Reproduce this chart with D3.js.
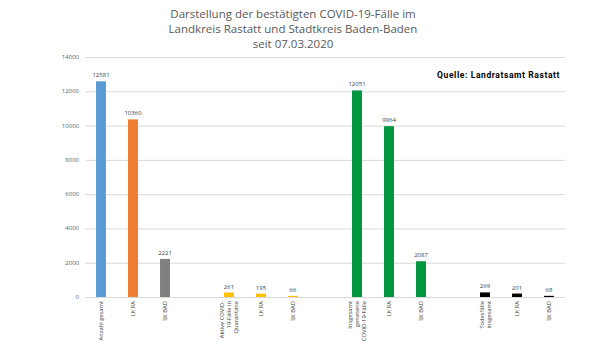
<!DOCTYPE html>
<html lang="de">
<head>
<meta charset="UTF-8">
<title>COVID-19 Rastatt</title>
<script src="https://cdn.jsdelivr.net/npm/d3@7"></script>
<style>
    body { margin: 0; background: #fff; }
    text { font-family: "Open Sans", sans-serif; }
</style>
</head>
<body>
<script>
    // data
    var categories = [
        ["Anzahl gesamt"], ["LK RA"], ["SK BAD"],
        ["Aktive COVID-", "19-Fälle in", "Quarantäne"], ["LK RA"], ["SK BAD"],
        ["Insgesamt", "genesene", "COVID-19-Fälle"], ["LK RA"], ["SK BAD"],
        ["Todesfälle", "insgesamt"], ["LK RA"], ["SK BAD"]
    ];
    var values = [12581, 10360, 2221, 261, 195, 66, 12051, 9964, 2087, 269, 201, 68];
    var groupOf = [0, 0, 0, 1, 1, 1, 2, 2, 2, 3, 3, 3];
    var tickValues = [0, 2000, 4000, 6000, 8000, 10000, 12000, 14000];
    var titleLines = ["Darstellung der bestätigten COVID-19-Fälle im",
        "Landkreis Rastatt und Stadtkreis Baden-Baden", "seit 07.03.2020"];

    var colors = ["#5b9bd5", "#ed7d31", "#7f7f7f",
        "#ffc000", "#ffc000", "#ffc000",
        "#00953f", "#00953f", "#00953f",
        "#000000", "#000000", "#000000"];

    // 15 slots: one empty slot between groups
    var slots = [];
    values.forEach(function (v, i) {
        if (i > 0 && groupOf[i] !== groupOf[i - 1]) slots.push("gap" + i);
        slots.push("c" + i);
    });

    var width = 608, height = 342;
    var x = d3.scaleBand().domain(slots).range([85, 565])
        .paddingInner(0.69).paddingOuter(0.345);
    var y = d3.scaleLinear().domain([0, 14000]).range([297, 57]);

    var svg = d3.select("body").append("svg")
        .attr("width", width).attr("height", height);

    svg.append("g").selectAll("text").data(titleLines).enter().append("text")
        .attr("x", 293).attr("y", function (d, i) { return 18 + i * 15; })
        .attr("text-anchor", "middle")
        .style("font-size", "11.5px").style("fill", "#595959")
        .text(function (d) { return d; });

    // gridlines
    svg.append("g").selectAll("line").data(tickValues).enter().append("line")
        .attr("x1", 85).attr("x2", 565)
        .attr("y1", function (d) { return y(d) + 0.5; })
        .attr("y2", function (d) { return y(d) + 0.5; })
        .style("stroke", "#d9d9d9").style("stroke-width", 1);

    svg.append("g").selectAll("text").data(tickValues).enter().append("text")
        .attr("x", 79).attr("y", function (d) { return y(d) + 2; })
        .attr("text-anchor", "end")
        .style("font-size", "6px").style("fill", "#595959")
        .text(function (d) { return d; });

    svg.append("g").selectAll("rect").data(values).enter().append("rect")
        .attr("x", function (d, i) { return x("c" + i); })
        .attr("width", x.bandwidth())
        .attr("y", function (d) { return y(d); })
        .attr("height", function (d) { return y(0) - y(d); })
        .style("fill", function (d, i) { return colors[i]; });

    svg.append("g").selectAll("text").data(values).enter().append("text")
        .attr("x", function (d, i) { return x("c" + i) + x.bandwidth() / 2; })
        .attr("y", function (d) { return y(d) - 4; })
        .attr("text-anchor", "middle")
        .style("font-size", "6px").style("fill", "#404040")
        .text(function (d) { return d; });

    // rotated category labels
    var lab = svg.append("g").selectAll("g").data(categories).enter().append("g")
        .attr("transform", function (d, i) {
            return "translate(" + (x("c" + i) + x.bandwidth() / 2) + ",301)";
        });
    lab.selectAll("text").data(function (d) { return d; }).enter().append("text")
        .attr("transform", function (d, j, nodes) {
            var n = nodes.length;
            var dx = (j - (n - 1) / 2) * 7 + 2;
            return "translate(" + dx + ",0) rotate(-90)";
        })
        .attr("text-anchor", "end")
        .style("font-size", "5.8px").style("fill", "#404040")
        .text(function (d) { return d; });

    svg.append("text")
        .attr("x", 560).attr("y", 78).attr("text-anchor", "end")
        .style("font-family", "Roboto, sans-serif").style("font-weight", "bold")
        .style("font-size", "8.5px").style("letter-spacing", "0.6px").style("fill", "#000")
        .text("Quelle: Landratsamt Rastatt");
</script>
</body>
</html>
